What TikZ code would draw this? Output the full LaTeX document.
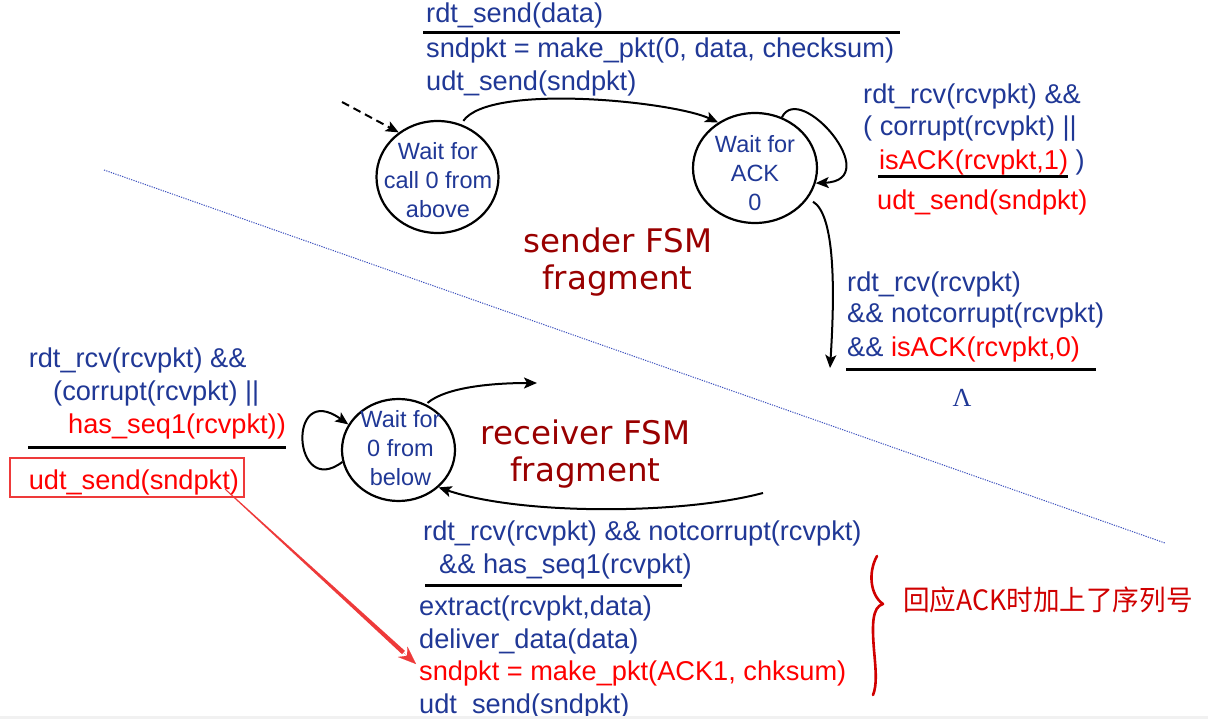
\documentclass[tikz,border=0pt]{standalone}
\usepackage{fontspec}
\usepackage{graphicx}
\setmainfont{Liberation Sans}
\newfontfamily\comicf{DejaVu Sans}
\newfontfamily\cjkf{Noto Sans CJK SC}
\newfontfamily\serf{Liberation Serif}
\usetikzlibrary{shapes.geometric,arrows.meta,calc}
\definecolor{tblue}{RGB}{32,56,150}
\definecolor{tred}{RGB}{255,0,0}
\definecolor{dred}{RGB}{153,0,0}
\definecolor{bred}{RGB}{238,58,58}
\definecolor{hred}{RGB}{208,0,0}
\definecolor{dotblue}{RGB}{60,80,190}
\definecolor{stripgray}{RGB}{241,241,241}
\begin{document}
\begin{tikzpicture}[x=1pt, y=-1pt,
  lbl/.style={anchor=base west, inner sep=0pt, text=tblue, font=\fontsize{27.2pt}{33pt}\selectfont},
  st/.style={draw, ellipse, line width=2.2pt, inner sep=0pt},
  sttxt/.style={align=center, inner sep=0pt, text=tblue, font=\fontsize{23.5pt}{29pt}\selectfont},
  rulel/.style={line width=3pt},
  tr/.style={line width=2pt, -{Stealth[length=13pt,width=11pt,inset=3pt]}},
  frag/.style={inner sep=0pt, text=dred, font=\comicf\fontsize{32.5pt}{38pt}\selectfont},
  redbox/.style={draw=bred, line width=2.6pt, inner sep=0pt},
]
\useasboundingbox (0,0) rectangle (1208,719);
\fill[white] (0,0) rectangle (1208,719);

% dotted separator
\draw[dotblue, line width=1pt, dash pattern=on 1.2pt off 1.2pt] (104,170) -- (1165,543);

% states
\node[st, minimum width=122pt, minimum height=112pt] (A) at (437.5,177) {};
\node[st, minimum width=124pt, minimum height=110pt] (B) at (755,168) {};
\node[st, minimum width=113pt, minimum height=102pt] (C) at (398.5,450) {};
\node[sttxt] (At) at (438,180) {Wait for\\call 0 from\\above};
\node[sttxt] (Bt) at (755,173) {Wait for\\ACK\\0};
\node[sttxt] (Ct) at (400.5,448.5) {Wait for\\0 from\\below};

% top label
\node[lbl] (l1) at (426,23) {rdt\_send(data)};
\draw[rulel] (423,33) -- (900,33);
\node[lbl] (l2) at (426,58) {sndpkt = make\_pkt(0, data, checksum)};
\node[lbl] (l3) at (426,91) {udt\_send(sndpkt)};

% right top label
\node[lbl] (r1) at (863,104) {rdt\_rcv(rcvpkt) \&\&};
\node[lbl] (r2) at (863,136) {( corrupt(rcvpkt) \textbar\textbar};
\node[lbl] (r3) at (879,170) {\textcolor{tred}{isACK(rcvpkt,1)} )};
\draw[rulel] (878,177) -- (1068,177);
\node[lbl, text=tred] (r4) at (877,210) {udt\_send(sndpkt)};

% right middle label
\node[lbl] (m1) at (847,292) {rdt\_rcv(rcvpkt)};
\node[lbl] (m2) at (847,323) {\&\& notcorrupt(rcvpkt)};
\node[lbl] (m3) at (847,357) {\&\& \textcolor{tred}{isACK(rcvpkt,0)}};
\draw[rulel] (846,370) -- (1096,370);
\node[inner sep=0pt, text=tblue, font=\serf\fontsize{26pt}{30pt}\selectfont] (lam) at (962,398) {Λ};

% left label
\node[lbl] (k1) at (28.6,368) {rdt\_rcv(rcvpkt) \&\&};
\node[lbl] (k2) at (53,400) {(corrupt(rcvpkt) \textbar\textbar};
\node[lbl, text=tred] (k3) at (68,433) {has\_seq1(rcvpkt))};
\draw[rulel] (28,447) -- (286,447);
\node[redbox, minimum width=234pt, minimum height=39pt] (box) at (127,477.5) {};
\node[lbl, text=tred] (k4) at (28.6,489) {udt\_send(sndpkt)};

% bottom label
\node[lbl] (b1) at (423,540) {rdt\_rcv(rcvpkt) \&\& notcorrupt(rcvpkt)};
\node[lbl] (b2) at (439,573) {\&\& has\_seq1(rcvpkt)};
\draw[rulel] (425,585) -- (682,585);
\node[lbl] (b3) at (419,615) {extract(rcvpkt,data)};
\node[lbl] (b4) at (419,648) {deliver\_data(data)};
\node[lbl, text=tred] (b5) at (419,680) {sndpkt = make\_pkt(ACK1, chksum)};
\node[lbl] (b6) at (419,713) {udt\_send(sndpkt)};

% fragment titles
\node[frag] (s1) at (618,240) {sender FSM};
\node[frag] (s2) at (617.5,281) {fragment};
\node[frag] (q1) at (585.5,432) {receiver FSM};
\node[frag] (q2) at (585.5,472.5) {fragment};

% handwritten note
\node[inner sep=0pt, anchor=west, text=hred, font=\cjkf\fontsize{28pt}{30pt}\selectfont] (note) at (903,600) {\scalebox{0.95}[1]{回应ACK时加上了序列号}};
\draw[hred, line width=2.6pt, line cap=round, line join=round]
  (877,556) .. controls (868,572) and (870,595) .. (883,604)
  .. controls (872,607) and (872,625) .. (874,650)
  .. controls (876,672) and (877,685) .. (873,695);

% connectors
\coordinate (dstart) at (342,102);
\draw[tr, dash pattern=on 8pt off 5pt] (dstart) -- (A.131);
\draw[tr, shorten <=4pt] (A.66) to[out=55,in=155,looseness=0.5] (B.129);
\draw[tr] (B.62) .. controls +(18,-37) and +(70,-3) .. (B.-14);
\coordinate (Bdn) at (830,368);
\draw[tr, shorten <=6pt] (B.-30) .. controls (835,215) and (835,290) .. (Bdn);
\draw[tr] (C.192) .. controls +(-50,38) and +(-62,-44.5) .. (C.153);
\coordinate (Cout) at (537,383);
\draw[tr, shorten <=2pt] (C.59) .. controls +(20,-17) and +(-45,0) .. (Cout);
\coordinate (Cin) at (763,493);
\draw[tr] (Cin) .. controls +(-83,22) and +(81.5,27.7) .. (C.-43);

% red pointer arrow (tapered)
\coordinate (ra) at (225,489);
\coordinate (rb) at (416,664);
\coordinate (rh) at ($(rb)!17pt!(ra)$);
\fill[bred] ($(ra)!0.5pt!90:(rb)$) -- ($(rh)!2.2pt!-90:(ra)$) -- ($(rh)!2.2pt!90:(ra)$) -- ($(ra)!0.5pt!-90:(rb)$) -- cycle;
\draw[bred, line width=0.1pt, -{Stealth[length=18pt,width=14pt]}] (rh) -- (rb);

% bottom strip
\fill[stripgray] (0,715.5) rectangle (1208,719);
\end{tikzpicture}
\end{document}
